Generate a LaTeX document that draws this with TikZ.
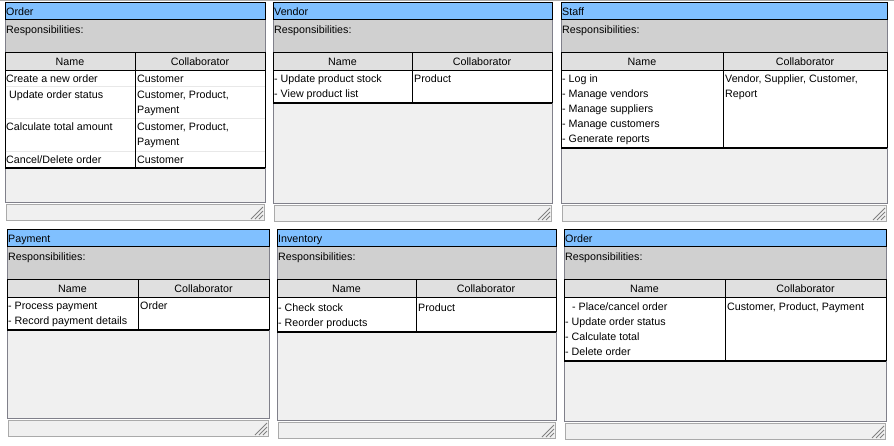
\documentclass[tikz,border=0pt]{standalone}
\usepackage{fontspec}
\setmainfont{Liberation Sans}
\definecolor{hdrblue}{RGB}{128,192,255}
\definecolor{respgray}{RGB}{208,208,208}
\definecolor{namegray}{RGB}{224,224,224}
\definecolor{bodygray}{RGB}{240,240,240}
\definecolor{bordgray}{RGB}{128,128,138}
\definecolor{statgray}{RGB}{170,170,170}
\definecolor{sepgray}{RGB}{232,232,232}
\tikzset{
  txt/.style={anchor=base west, inner sep=0pt, font=\fontsize{10.7}{13}\selectfont},
  ctxt/.style={anchor=base, inner sep=0pt, font=\fontsize{10.7}{13}\selectfont},
  hdrbox/.style={fill=hdrblue, draw=black, line width=1pt},
  tline/.style={draw=black, line width=1pt},
  thickline/.style={draw=black, line width=2.2pt},
  outline/.style={draw=bordgray, line width=1pt},
  statbox/.style={fill=bodygray, draw=statgray, line width=1pt},
  gripline/.style={draw=gray, line width=0.8pt},
}
% #1 id, #2 x1, #3 y0, #4 x2, #5 xd, #6 yT, #7 yB, #8 title
\newcommand\crccard[8]{%
  \pgfmathsetmacro\ya{#3+17}%
  \pgfmathsetmacro\yb{#3+50}%
  \pgfmathsetmacro\yc{#3+68}%
  \pgfmathsetmacro\ys{#7+2}%
  \pgfmathsetmacro\yt{#7+18}%
  \pgfmathsetmacro\xl{#2+1}%
  \pgfmathsetmacro\xr{#4-1}%
  \pgfmathsetmacro\xna{(#2+#5)/2}%
  \pgfmathsetmacro\xnb{(#5+#4)/2}%
  \fill[respgray] (#2,\ya) rectangle (#4,\yb);
  \fill[namegray] (#2,\yb) rectangle (#4,\yc);
  \fill[white] (#2,\yc) rectangle (#4,#6);
  \fill[bodygray] (#2,#6) rectangle (#4,#7);
  \draw[outline] (#2,\ya) -- (#2,#7) -- (#4,#7) -- (#4,\ya);
  \draw[tline] (#2,\yb) -- (#4,\yb);
  \draw[tline] (#2,\yc) -- (#4,\yc);
  \draw[tline] (#2,\yb) -- (#2,#6);
  \draw[tline] (#4,\yb) -- (#4,#6);
  \draw[tline] (#5,\yb) -- (#5,#6);
  \draw[thickline] (#2,#6) -- (#4,#6);
  \draw[hdrbox] (#2,#3) rectangle (#4,\ya);
  \draw[statbox] (\xl,\ys) rectangle (\xr,\yt);
  \foreach \k in {4,8,12}{
    \draw[gripline] (\xr-1-\k,\yt-1) -- (\xr-1,\yt-1-\k);
  }
  \node[txt] (#1title) at (\xl,#3+13) {#8};
  \node[txt] (#1resp) at (\xl,#3+31) {Responsibilities:};
  \node[ctxt] (#1name) at (\xna,#3+63) {Name};
  \node[ctxt] (#1collab) at (\xnb,#3+63) {Collaborator};
}
\begin{document}
\begin{tikzpicture}[x=1pt,y=-1pt]
\useasboundingbox (0,0) rectangle (894,445);
\fill[white] (0,0) rectangle (894,445);
\draw[statgray, line width=1pt] (0,0.5) -- (894,0.5);

% Card 1: Order
\crccard{a}{5}{2}{265}{135}{168}{202}{Order}
\draw[sepgray] (5.5,86) -- (264.5,86);
\draw[sepgray] (5.5,118) -- (264.5,118);
\draw[sepgray] (5.5,151) -- (264.5,151);
\draw[tline] (135,86) -- (135,168);
\node[txt] (a1) at (6,82) {Create a new order};
\node[txt] (a2) at (6,98) {\ Update order status};
\node[txt] (a3) at (6,130) {Calculate total amount};
\node[txt] (a4) at (6,163) {Cancel/Delete order};
\node[txt] (ac1) at (137,82) {Customer};
\node[txt] (ac2) at (137,98) {Customer, Product,};
\node[txt] (ac2b) at (137,113) {Payment};
\node[txt] (ac3) at (137,130) {Customer, Product,};
\node[txt] (ac3b) at (137,145) {Payment};
\node[txt] (ac4) at (137,163) {Customer};

% Card 2: Vendor
\crccard{b}{273}{2}{552}{412}{103}{203}{Vendor}
\node[txt] (b1) at (274,82) {- Update product stock};
\node[txt] (b2) at (274,97) {- View product list};
\node[txt] (bc1) at (414,82) {Product};

% Card 3: Staff
\crccard{c}{561}{2}{887}{723}{148}{203}{Staff}
\node[txt] (c1) at (562,82) {- Log in};
\node[txt] (c2) at (562,97) {- Manage vendors};
\node[txt] (c3) at (562,112) {- Manage suppliers};
\node[txt] (c4) at (562,127) {- Manage customers};
\node[txt] (c5) at (562,142) {- Generate reports};
\node[txt] (cc1) at (725,82) {Vendor, Supplier, Customer,};
\node[txt] (cc2) at (725,97) {Report};

% Card 4: Payment
\crccard{d}{7}{229}{269}{138}{330}{418}{Payment}
\node[txt] (d1) at (8,309) {- Process payment};
\node[txt] (d2) at (8,324) {- Record payment details};
\node[txt] (dc1) at (140,309) {Order};

% Card 5: Inventory
\crccard{e}{277}{229}{556}{416}{332}{420}{Inventory}
\node[txt] (e1) at (278,311) {- Check stock};
\node[txt] (e2) at (278,326) {- Reorder products};
\node[txt] (ec1) at (418,311) {Product};

% Card 6: Order
\crccard{f}{564}{229}{886}{725}{361}{421}{Order}
\node[txt] (f1) at (572,310) {- Place/cancel order};
\node[txt] (f2) at (565,325) {- Update order status};
\node[txt] (f3) at (565,340) {- Calculate total};
\node[txt] (f4) at (565,355) {- Delete order};
\node[txt] (fc1) at (727,310) {Customer, Product, Payment};
\end{tikzpicture}
\end{document}
